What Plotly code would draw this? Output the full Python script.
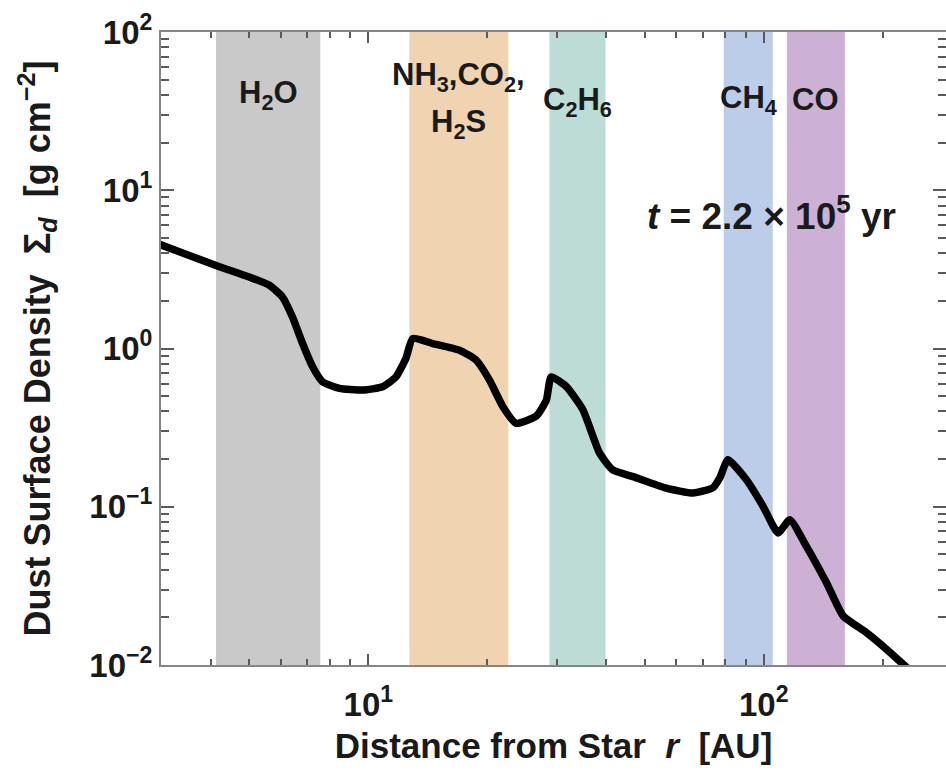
import numpy as np
import plotly.graph_objects as go

# ---- data ----
r_au = [2.9, 3.0, 4.12, 5.0, 5.62, 6.07, 6.43, 6.82, 7.23, 7.66, 8.45, 9.67, 10.87,
        11.75, 12.45, 12.95, 14.55, 17.0, 18.74, 20.25, 21.9, 23.65, 26.6, 28.2,
        29.0, 31.7, 34.9, 38.45, 41.5, 46.7, 56.7, 66.2, 74.4, 77.4, 81.2, 90.4,
        99.6, 108.7, 116.4, 128.2, 144.1, 158.8, 182.0, 204.5, 225.3, 240.0]
sigma_d = [4.62, 4.50, 3.35, 2.83, 2.51, 2.11, 1.58, 1.075, 0.766, 0.616, 0.560,
           0.546, 0.573, 0.662, 0.869, 1.156, 1.075, 0.976, 0.844, 0.631, 0.4286,
           0.3368, 0.3745, 0.472, 0.662, 0.573, 0.409, 0.218, 0.171, 0.155, 0.131,
           0.122, 0.1318, 0.152, 0.198, 0.148, 0.1006, 0.0683, 0.0828, 0.0562,
           0.0331, 0.0204, 0.016, 0.01256, 0.0101, 0.0088]

band_names = ["H<sub>2</sub>O", "NH<sub>3</sub>,CO<sub>2</sub>,", "C<sub>2</sub>H<sub>6</sub>",
              "CH<sub>4</sub>", "CO"]
band_lo = [4.12, 12.7, 28.7, 79.2, 114.4]
band_hi = [7.56, 22.6, 39.8, 105.4, 160.4]
band_colors = ["#c9c9c9", "#f0d3b1", "#bddcd6", "#bccdea", "#cdb1d4"]
band_label_y = [0.900, 0.929, 0.890, 0.893, 0.893]
extra_label = "H<sub>2</sub>S"

y_lo, y_hi = 1e-2, 1e2
x_lo, x_hi = 2.99, 289.0

y_tickvals = [1e-2, 1e-1, 1e0, 1e1, 1e2]
y_ticktext = ["10<sup>−2</sup>", "10<sup>−1</sup>", "10<sup>0</sup>", "10<sup>1</sup>", "10<sup>2</sup>"]
x_tickvals = [1e1, 1e2]
x_ticktext = ["10<sup>1</sup>", "10<sup>2</sup>"]

time_label = "<i>t</i> = 2.2 × 10<sup>5</sup> yr"
time_label_x = 104.8

FONT = "Liberation Sans"
TXT = "#1a1a1a"
fig = go.Figure()

for lo, hi, col in zip(band_lo, band_hi, band_colors):
    fig.add_trace(go.Scatter(
        x=[lo, hi, hi, lo, lo], y=[y_lo, y_lo, y_hi, y_hi, y_lo],
        fill="toself", fillcolor=col, mode="lines", line=dict(width=0),
        hoverinfo="skip", showlegend=False))

fig.add_trace(go.Scatter(x=r_au, y=sigma_d, mode="lines",
                         line=dict(color="black", width=7.5, shape="spline", smoothing=0.5),
                         showlegend=False))

for name, lo, hi, yy in zip(band_names, band_lo, band_hi, band_label_y):
    fig.add_annotation(x=0.5 * (np.log10(lo) + np.log10(hi)), y=yy, xref="x", yref="paper",
                       yanchor="middle", xanchor="center",
                       text="<b>" + name + "</b>", showarrow=False,
                       font=dict(family=FONT, size=31, color=TXT))
fig.add_annotation(x=0.5 * (np.log10(band_lo[1]) + np.log10(band_hi[1])), y=0.855,
                   xref="x", yref="paper", yanchor="middle", xanchor="center",
                   text="<b>" + extra_label + "</b>", showarrow=False,
                   font=dict(family=FONT, size=31, color=TXT))
fig.add_annotation(x=np.log10(time_label_x), y=0.714, xref="x", yref="paper",
                   yanchor="middle", xanchor="center",
                   text="<b>" + time_label + "</b>", showarrow=False,
                   font=dict(family=FONT, size=37, color=TXT))

minor_x = [m * 10 ** e for e in range(0, 3) for m in range(2, 10) if x_lo <= m * 10 ** e <= x_hi]
minor_y = [m * 10.0 ** e for e in range(-2, 2) for m in range(2, 10)]

TICKC = "#5a5a5a"
axis_common = dict(type="log", showgrid=False, zeroline=False, showline=True,
                   linecolor="#858585", linewidth=2, mirror="ticks", ticks="inside",
                   tickcolor=TICKC, tickwidth=2,
                   tickfont=dict(family=FONT, size=33, color=TXT, weight="bold"))

fig.update_xaxes(range=[np.log10(x_lo), np.log10(x_hi)], tickmode="array",
                 tickvals=x_tickvals, ticktext=x_ticktext, ticklen=11, ticklabelstandoff=9,
                 minor=dict(tickmode="array", tickvals=minor_x, ticks="inside", ticklen=6,
                            tickcolor=TICKC, tickwidth=2, showgrid=False),
                 title=dict(text="<b>Distance from Star  <i>r</i>  [AU]</b>",
                            font=dict(family=FONT, size=35, color=TXT), standoff=12),
                 **axis_common)
fig.update_yaxes(range=[np.log10(y_lo), np.log10(y_hi)], tickmode="array",
                 tickvals=y_tickvals, ticktext=y_ticktext, ticklen=13,
                 minor=dict(tickmode="array", tickvals=minor_y, ticks="inside", ticklen=8,
                            tickcolor=TICKC, tickwidth=2, showgrid=False),
                 title=dict(text="<b>Dust Surface Density  Σ<sub><i>d</i></sub>  [g cm<sup>−2</sup>]</b>",
                            font=dict(family=FONT, size=36, color=TXT), standoff=28),
                 **axis_common)

fig.update_layout(width=946, height=776, margin=dict(l=161, r=0, t=32, b=111, autoexpand=False),
                  plot_bgcolor="white", paper_bgcolor="white", showlegend=False)

fig.write_html("out.html")
